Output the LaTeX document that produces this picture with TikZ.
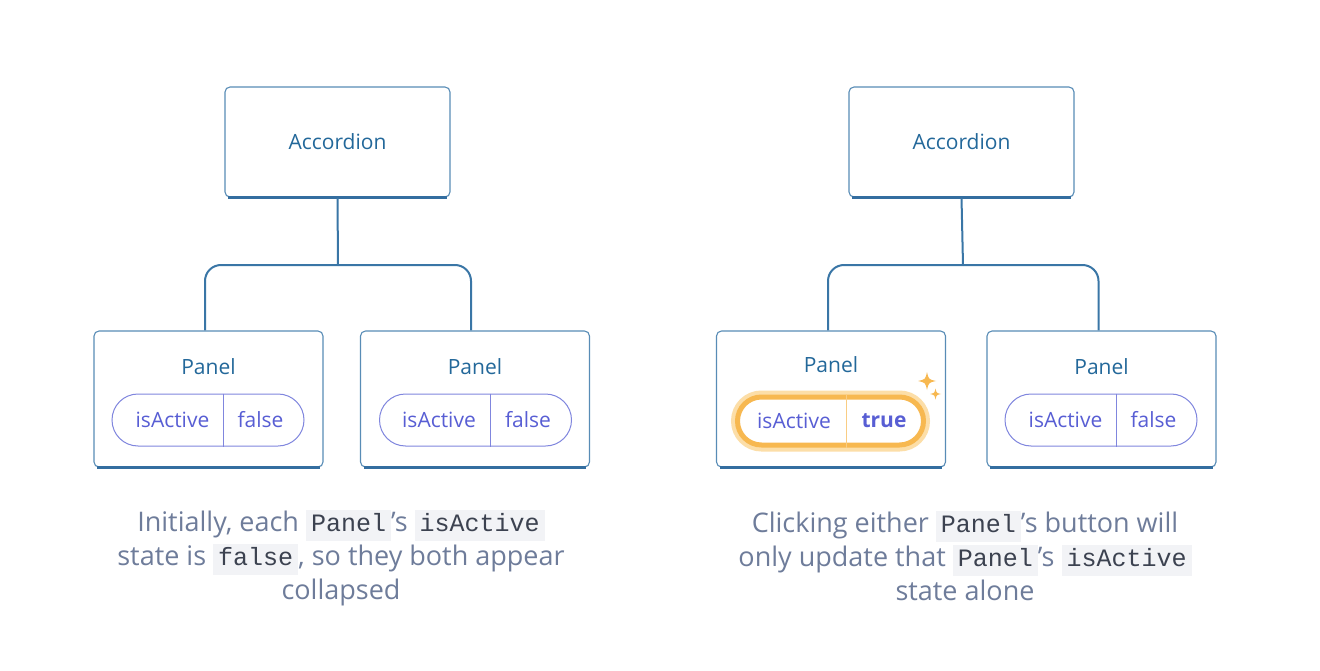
\documentclass[tikz,border=0pt]{standalone}
\usepackage{fontspec}
\setmainfont{Open Sans}
\setmonofont{Liberation Mono}
\usetikzlibrary{positioning}
\usetikzlibrary{calc}

\definecolor{boxline}{RGB}{88,140,182}
\definecolor{boxfoot}{RGB}{52,110,160}
\definecolor{wireblue}{RGB}{58,118,166}
\definecolor{titleblue}{RGB}{35,104,154}
\definecolor{pillline}{RGB}{128,134,222}
\definecolor{pilltext}{RGB}{88,94,212}
\definecolor{glow}{RGB}{247,184,80}
\definecolor{glowsoft}{RGB}{252,222,168}
\definecolor{captext}{RGB}{110,124,154}
\definecolor{chipbg}{RGB}{242,243,246}
\definecolor{codetext}{RGB}{60,66,80}

\newcommand{\code}[1]{{\setlength{\fboxsep}{0pt}\colorbox{chipbg}{\hspace{5pt}\color{codetext}\ttfamily\fontsize{25}{30}\selectfont\rule[-9pt]{0pt}{31pt}#1\hspace{5pt}}}}
\newcommand{\sparkle}[3]{\fill[glow] (#1,#2-#3) .. controls (#1+0.18*#3,#2-0.18*#3) .. (#1+#3,#2)
  .. controls (#1+0.18*#3,#2+0.18*#3) .. (#1,#2+#3) .. controls (#1-0.18*#3,#2+0.18*#3) .. (#1-#3,#2)
  .. controls (#1-0.18*#3,#2-0.18*#3) .. cycle;}

\tikzset{
  accbox/.style={draw=boxline, line width=1.1pt, rounded corners=5pt, fill=white,
    minimum width=225pt, minimum height=110pt, text=titleblue, font=\fontsize{21}{24}\selectfont},
  panelbox/.style={draw=boxline, line width=1.1pt, rounded corners=5pt, fill=white,
    minimum width=229pt, minimum height=136pt},
  foot/.style={draw=boxfoot, line width=2.6pt},
  wire/.style={draw=wireblue, line width=2pt, rounded corners=16pt},
  title/.style={text=titleblue, font=\fontsize{21}{24}\selectfont},
  pill/.style={draw=pillline, line width=1pt, rounded corners=26pt, fill=white,
    minimum width=192pt, minimum height=52pt},
  hotpill/.style={pill, draw=glow, line width=5pt, rounded corners=24pt,
    minimum width=186pt, minimum height=48pt},
  split/.style={draw=pillline, line width=1pt},
  pilltext/.style={text=pilltext, font=\fontsize{21}{24}\selectfont},
  caption/.style={align=center, text=captext, font=\fontsize{27}{34}\selectfont}
}

\begin{document}
\begin{tikzpicture}[x=1pt, y=-1pt]
  \useasboundingbox (0,0) rectangle (1320,671);

  % left tree
  \node[accbox] (AccL) at (337.5,142) {Accordion};
  \draw[foot] ([xshift=4pt]AccL.south west) -- ([xshift=-4pt]AccL.south east);
  \node[panelbox] (PanA) at (208.5,399) {};
  \draw[foot] ([xshift=4pt]PanA.south west) -- ([xshift=-4pt]PanA.south east);
  \node[panelbox] (PanB) at (475,399) {};
  \draw[foot] ([xshift=4pt]PanB.south west) -- ([xshift=-4pt]PanB.south east);
  \coordinate (JL) at (338,265);
  \draw[wire] (AccL.south) -- (JL);
  \draw[wire] (JL) -| ([xshift=-3.5pt]PanA.north);
  \draw[wire] (JL) -| ([xshift=-4pt]PanB.north);

  \node[title] at ([yshift=-36pt]PanA.north) {Panel};
  \node[pill] (PillA) at (208,420) {};
  \draw[split] ([xshift=112pt]PillA.north west) -- ([xshift=112pt]PillA.south west);
  \node[pilltext] at ([xshift=61pt]PillA.west) {isActive};
  \node[pilltext] at ([xshift=-44pt]PillA.east) {false};

  \node[title] at ([yshift=-36pt]PanB.north) {Panel};
  \node[pill] (PillB) at (475.5,420) {};
  \draw[split] ([xshift=111pt]PillB.north west) -- ([xshift=111pt]PillB.south west);
  \node[pilltext] at ([xshift=60pt]PillB.west) {isActive};
  \node[pilltext] at ([xshift=-44pt]PillB.east) {false};

  % right tree
  \node[accbox] (AccR) at (961.5,142) {Accordion};
  \draw[foot] ([xshift=4pt]AccR.south west) -- ([xshift=-4pt]AccR.south east);
  \node[panelbox] (PanC) at (831,399) {};
  \draw[foot] ([xshift=4pt]PanC.south west) -- ([xshift=-4pt]PanC.south east);
  \node[panelbox] (PanD) at (1101.5,399) {};
  \draw[foot] ([xshift=4pt]PanD.south west) -- ([xshift=-4pt]PanD.south east);
  \coordinate (JR) at (963,265);
  \draw[wire] (AccR.south) -- (JR);
  \draw[wire] (JR) -| ([xshift=-3pt]PanC.north);
  \draw[wire] (JR) -| ([xshift=-3pt]PanD.north);

  \node[title] at ([yshift=-34pt]PanC.north) {Panel};
  \node[hotpill, draw=glowsoft, line width=13pt] at (830.5,421) {};
  \node[hotpill] (PillC) at (830.5,421) {};
  \draw[split, draw=glow!70] ([xshift=111pt]PillC.north west) -- ([xshift=111pt]PillC.south west);
  \node[pilltext] at ([xshift=59pt]PillC.west) {isActive};
  \node[pilltext, font=\fontsize{21}{24}\selectfont\bfseries] at ([xshift=-42pt]PillC.east) {true};
  \sparkle{927}{381}{9}
  \sparkle{935.5}{394}{5.5}

  \node[title] at ([yshift=-36pt]PanD.north) {Panel};
  \node[pill] (PillD) at (1101,420) {};
  \draw[split] ([xshift=112pt]PillD.north west) -- ([xshift=112pt]PillD.south west);
  \node[pilltext] at ([xshift=61pt]PillD.west) {isActive};
  \node[pilltext] at ([xshift=-44pt]PillD.east) {false};

  % captions
  \node[caption] (CapL) at (341,558) {Initially, each \code{Panel}’s \code{isActive}\\
    state is \code{false}, so they both appear\\ collapsed};
  \node[caption] (CapR) at (965,556) {Clicking either \code{Panel}’s button will\\
    only update that \code{Panel}’s \code{isActive}\\ state alone};
\end{tikzpicture}
\end{document}
